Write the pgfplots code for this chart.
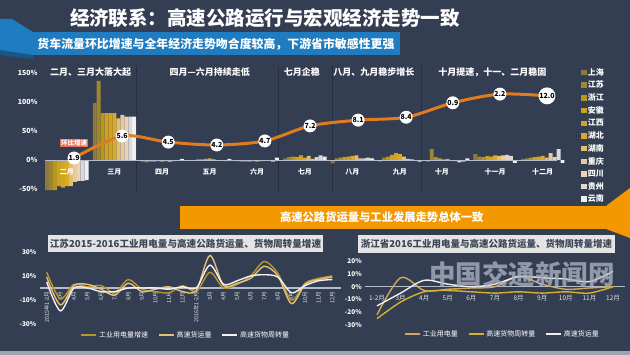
\documentclass[border=0pt]{standalone}
\usepackage{fontspec}
\setmainfont{Noto Sans CJK SC}
\usepackage{pgfplots}
\pgfplotsset{compat=1.18}
\usepackage{pgfplotstable}
\definecolor{bg}{HTML}{343E52}
\definecolor{sepc}{HTML}{262E3F}
\definecolor{zl}{HTML}{B4BCCC}
\definecolor{bluebar}{HTML}{1F7CC0}
\definecolor{bluedark}{HTML}{17588A}
\definecolor{orangebar}{HTML}{F39800}
\definecolor{lineor}{HTML}{E07B1E}
\definecolor{salmon}{HTML}{E8705A}
\definecolor{boxgray}{HTML}{E4E4E4}
\definecolor{boxtext}{HTML}{3C4656}
\definecolor{wm}{HTML}{A8AFBF}
\definecolor{pA}{HTML}{8C7A3C}
\definecolor{pB}{HTML}{A08530}
\definecolor{pC}{HTML}{B8961E}
\definecolor{pD}{HTML}{C9A227}
\definecolor{pE}{HTML}{D4A420}
\definecolor{pF}{HTML}{DCAA2A}
\definecolor{pG}{HTML}{E2BF6A}
\definecolor{pH}{HTML}{E6C9A0}
\definecolor{pI}{HTML}{E8D3BC}
\definecolor{pJ}{HTML}{D9D9D9}
\definecolor{pK}{HTML}{F0F0F0}
\definecolor{gA}{HTML}{B8962E}
\definecolor{gB}{HTML}{E6C07A}
\definecolor{gC}{HTML}{F2F2F2}
\definecolor{zA}{HTML}{D0A860}
\definecolor{zB}{HTML}{D8B030}
\definecolor{zC}{HTML}{F0EEE8}
\pgfplotsset{provbar/.style={fill=#1, draw=none, legend image code/.code={\fill[#1] (0pt,-2.8pt) rectangle (5.6pt,2.8pt);}}}
\tikzset{mlab/.style={text=white, font=\fontsize{7}{8}\selectfont\bfseries, yshift=-12pt},
  hlab/.style={text=white, font=\fontsize{9}{10}\selectfont\bfseries}}

\pgfplotstableread{
m sh js zj ah jx hb hn cq sc gz yn
0 -52 -52 -52 -45 -48 -45 -45 -38 -36 -36 -35
1 99 137 81 81 81 81 72 78 75 75 75
2 -3 -4 -3 -3 -2 -3 -2 -3 -2 -1 2
3 -1 -1 1 1 2 3 1 -1 -1 -2 2
4 -2 -3 -3 -3 -2 -3 -2 -1 -1 -3 4
5 3 5 6 5 8 4 7 2 5 8 6
6 -6 3 4 5 6 7 8 3 3 4 3
7 -3 4 6 9 12 10 6 2 1 -1 -3
8 -3 19 5 3 1 2 -1 -2 -4 -3 3
9 10 6 5 7 6 8 7 8 9 7 -5
10 2 3 4 5 6 7 4 12 5 19 -5
}\provinces

\pgfplotstableread{
x y lab
0.15 3.5 1.9
1.16 41.5 5.6
2.13 31 4.5
3.15 26 4.2
4.16 33 4.7
5.11 59 7.2
6.12 69 8.1
7.13 74 8.4
8.11 99 0.9
9.10 114 2.2
10.09 111 12.0
}\trend

\pgfplotstableread{
x ind frt trn
0 13 9 5
1 -9 -14 -19
2 3 2 0
3 1 3 0
4 2 -1 -3
5 -4 -6 -3
6 7 4 0
7 -1 -3 0
8 -3 -1 0
9 -4 1 -1
10 2 -3 1
11 -3 -2 0
12 13 27 19
13 0 2 3
14 3 4 6
15 10 8 10
16 22 18 11
17 12 10 9
18 -10 -13 -4
19 4 3 2
20 8 7 6
21 10 9 7
}\jiangsu

\pgfplotstableread{
x ind trn frt
0 -22 -25 -15
1 7 -12 -5
2 -3 -4 5
3 -2 -3 2
4 -1 -4 0
5 0 -5 2
6 8 -4 8
7 2 -5 7
8 -2 -4 6
9 -1 -5 4
10 0 0 12
}\zhejiang

\begin{document}
\begin{tikzpicture}
% background
\fill[bg] (0pt,0pt) rectangle (630pt,355pt);
\fill[zl!80!bg] (0pt,0pt) rectangle (630pt,4pt);
% top-left decoration
\fill[bluedark] (0pt,305pt) -- (33pt,300pt) -- (33pt,296pt) -- (0pt,300pt) -- cycle;
\fill[bluebar] (0pt,336pt) -- (12pt,336pt) -- (33pt,323pt) -- (33pt,300pt) -- (0pt,305pt) -- cycle;
% title
\node[text=white, font=\fontsize{19.5}{22}\selectfont\bfseries] at (265pt,337pt) {经济联系：高速公路运行与宏观经济走势一致};
% subtitle bar
\fill[bluebar] (33pt,300pt) rectangle (400pt,323pt);
\node[text=white, font=\fontsize{11.9}{13}\selectfont\bfseries] at (216pt,311pt) {货车流量环比增速与全年经济走势吻合度较高，下游省市敏感性更强};
% orange banner
\fill[orangebar] (180pt,126pt) rectangle (608pt,149pt);
\fill[orangebar] (606pt,149pt) -- (630pt,167pt) -- (630pt,117pt) -- (606pt,126pt) -- cycle;
\node[anchor=east, text=white, font=\fontsize{11.3}{13}\selectfont\bfseries] at (487pt,137.5pt) {高速公路货运量与工业发展走势总体一致};
% bottom title boxes
\fill[boxgray] (48pt,103pt) rectangle (323pt,120pt);
\node[text=boxtext, font=\fontsize{9.6}{11}\selectfont\bfseries] at (185.5pt,111.5pt) {江苏2015-2016工业用电量与高速公路货运量、货物周转量增速};
\fill[boxgray] (358pt,102pt) rectangle (615pt,120pt);
\node[text=boxtext, font=\fontsize{9.5}{11}\selectfont\bfseries] at (486.5pt,111pt) {浙江省2016工业用电量与高速公路货运量、货物周转量增速};

% ===== top bar chart =====
\begin{axis}[
  at={(45pt,163.2pt)}, anchor=south west,
  scale only axis, width=512pt, height=125.4pt,
  xmin=-0.46, xmax=10.3, ymin=-55, ymax=162,
  ybar=0pt, bar width=0.083,
  axis line style={draw=none}, major tick length=0pt,
  xtick=\empty, ytick={-50,0,50,100,150},
  /pgf/number format/assume math mode=true,
  yticklabel={\pgfmathprintnumber{\tick}\%},
  yticklabel style={font=\fontsize{7}{8}\selectfont\bfseries, text=white, xshift=-4pt},
  clip=false,
  legend cell align=left,
  legend style={at={(1.041,1.011)}, anchor=north west, draw=none, fill=none,
    font=\fontsize{8}{9}\selectfont\bfseries, text=white, row sep=2.4pt,
    nodes={inner sep=1pt}},
]
\draw[sepc, line width=0.8pt] (axis cs:1.47,-55) -- (axis cs:1.47,162);
\draw[sepc, line width=0.8pt] (axis cs:4.44,-55) -- (axis cs:4.44,162);
\draw[sepc, line width=0.8pt] (axis cs:5.57,-55) -- (axis cs:5.57,162);
\draw[sepc, line width=0.8pt] (axis cs:7.46,-55) -- (axis cs:7.46,162);
\addplot[provbar=pA] table[x=m,y=sh]{\provinces}; \addlegendentry{上海}
\addplot[provbar=pB] table[x=m,y=js]{\provinces}; \addlegendentry{江苏}
\addplot[provbar=pC] table[x=m,y=zj]{\provinces}; \addlegendentry{浙江}
\addplot[provbar=pD] table[x=m,y=ah]{\provinces}; \addlegendentry{安徽}
\addplot[provbar=pE] table[x=m,y=jx]{\provinces}; \addlegendentry{江西}
\addplot[provbar=pF] table[x=m,y=hb]{\provinces}; \addlegendentry{湖北}
\addplot[provbar=pG] table[x=m,y=hn]{\provinces}; \addlegendentry{湖南}
\addplot[provbar=pH] table[x=m,y=cq]{\provinces}; \addlegendentry{重庆}
\addplot[provbar=pI] table[x=m,y=sc]{\provinces}; \addlegendentry{四川}
\addplot[provbar=pJ] table[x=m,y=gz]{\provinces}; \addlegendentry{贵州}
\addplot[provbar=pK] table[x=m,y=yn]{\provinces}; \addlegendentry{云南}
\draw[zl, line width=0.8pt] (axis cs:-0.46,0) -- (axis cs:10.3,0);
\node[mlab] at (axis cs:0,0) {二月};
\node[mlab] at (axis cs:1,0) {三月};
\node[mlab] at (axis cs:2,0) {四月};
\node[mlab] at (axis cs:3,0) {五月};
\node[mlab] at (axis cs:4,0) {六月};
\node[mlab] at (axis cs:5,0) {七月};
\node[mlab] at (axis cs:6,0) {八月};
\node[mlab] at (axis cs:7,0) {九月};
\node[mlab] at (axis cs:7.88,0) {十月};
\node[mlab] at (axis cs:9,0) {十一月};
\node[mlab] at (axis cs:10,0) {十二月};
\node[hlab] at (axis cs:0.5,152) {二月、三月大落大起};
\node[hlab] at (axis cs:3.0,152) {四月—六月持续走低};
\node[hlab] at (axis cs:4.94,152) {七月企稳};
\node[hlab] at (axis cs:6.45,152) {八月、九月稳步增长};
\node[hlab] at (axis cs:8.94,152) {十月提速，十一、二月稳固};
\end{axis}

% ===== trend line overlay =====
\begin{axis}[
  at={(45pt,163.2pt)}, anchor=south west,
  scale only axis, width=512pt, height=125.4pt,
  xmin=-0.46, xmax=10.3, ymin=-55, ymax=162,
  axis lines=none, clip=false,
]
\addplot[lineor, line width=3pt, smooth, tension=0.5,
  nodes near coords, point meta=explicit symbolic,
  every node near coord/.append style={circle, fill=white, inner sep=0.3pt, minimum size=12pt,
    font=\fontsize{7}{7}\selectfont\bfseries, text=black, anchor=center}]
  table[x=x,y=y,meta=lab]{\trend};
\node[fill=salmon, text=white, inner sep=1pt, font=\fontsize{6.5}{7}\selectfont\bfseries] at (axis cs:0.15,29) {环比增速};
\end{axis}

% ===== Jiangsu =====
\begin{axis}[
  at={(39.9pt,24.8pt)}, anchor=south west, scale only axis,
  width=300.6pt, height=82pt,
  xmin=-0.5, xmax=21.6, ymin=-35, ymax=33,
  axis x line=middle, axis y line=left,
  x axis line style={zl, line width=1.1pt, -}, y axis line style={draw=none},
  major tick length=0pt,
  xtick={0,...,21},
  xticklabels={2015年1-2月,3月,4月,5月,6月,7月,8月,9月,10月,11月,12月,2016年1-2月,3月,4月,5月,6月,7月,8月,9月,10月,11月,12月},
  xticklabel style={rotate=90, anchor=east, font=\fontsize{5.5}{6}\selectfont, text=white!85!bg},
  ytick={-30,-10,10,30},
  /pgf/number format/assume math mode=true,
  yticklabel={\pgfmathprintnumber{\tick}\%},
  yticklabel style={font=\fontsize{6.5}{7}\selectfont\bfseries, text=white},
  clip=false,
  legend style={at={(0.486,-0.059)}, anchor=center, draw=none, fill=none, legend columns=-1,
    font=\fontsize{7}{8}\selectfont, text=white,
    /tikz/every even column/.append style={column sep=8pt}},
  legend image code/.code={\draw[#1, line width=1.5pt] (0pt,0pt) -- (15pt,0pt);},
]
\addplot[gA, line width=1.4pt, smooth] table[x=x,y=ind]{\jiangsu}; \addlegendentry{工业用电量增速}
\addplot[gB, line width=1.4pt, smooth] table[x=x,y=frt]{\jiangsu}; \addlegendentry{高速货运量}
\addplot[gC, line width=1.4pt, smooth] table[x=x,y=trn]{\jiangsu}; \addlegendentry{高速货物周转量}
\end{axis}

% ===== Zhejiang =====
\begin{axis}[
  at={(365.2pt,26.1pt)}, anchor=south west, scale only axis,
  width=259.6pt, height=71.6pt,
  xmin=-0.5, xmax=10.5, ymin=-33, ymax=23,
  axis x line=middle, axis y line=left,
  x axis line style={zl, line width=1.1pt, -}, y axis line style={draw=none},
  major tick length=0pt,
  xtick={0,...,10},
  xticklabels={1-2月,3月,4月,5月,6月,7月,8月,9月,10月,11月,12月},
  xticklabel style={font=\fontsize{6.5}{7}\selectfont, text=white!85!bg, yshift=-5pt},
  ytick={-30,-20,-10,0,10,20},
  /pgf/number format/assume math mode=true,
  yticklabel={\pgfmathprintnumber{\tick}\%},
  yticklabel style={font=\fontsize{6.5}{7}\selectfont\bfseries, text=white},
  clip=false,
  legend style={at={(0.529,-0.071)}, anchor=center, draw=none, fill=none, legend columns=-1,
    font=\fontsize{7}{8}\selectfont, text=white,
    /tikz/every even column/.append style={column sep=8pt}},
  legend image code/.code={\draw[#1, line width=1.5pt] (0pt,0pt) -- (15pt,0pt);},
]
\addplot[zA, line width=1.4pt, smooth] table[x=x,y=ind]{\zhejiang}; \addlegendentry{工业用电量}
\addplot[zB, line width=1.4pt, smooth] table[x=x,y=trn]{\zhejiang}; \addlegendentry{高速货物周转量}
\addplot[zC, line width=1.4pt, smooth] table[x=x,y=frt]{\zhejiang}; \addlegendentry{高速货运量}
\end{axis}

% watermark
\node[text=wm, opacity=0.8, font=\fontsize{26.5}{28}\selectfont\bfseries] at (522pt,81pt) {中国交通新闻网};
\end{tikzpicture}
\end{document}
